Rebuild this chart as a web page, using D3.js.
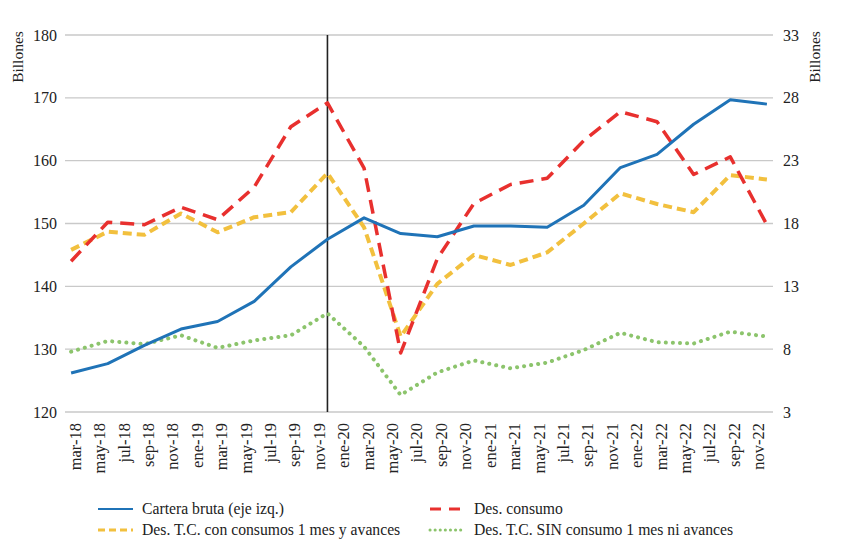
<!DOCTYPE html>
<html>
<head>
<meta charset="utf-8">
<script src="https://cdn.jsdelivr.net/npm/d3@7"></script>
<style>
  body { margin: 0; background: #fff; }
  text { font-family: "Liberation Serif", "DejaVu Serif", serif; fill: #222; }
</style>
</head>
<body>
<div id="chart"></div>
<script>

// month names and years for the category axis
var monthNames = ["ene", "feb", "mar", "abr", "may", "jun", "jul", "ago", "sep", "oct", "nov", "dic"],
  years = ["18", "19", "20", "21", "22"];

// quarterly observations
var quarters = ["mar-18", "jun-18", "sep-18", "dic-18", "mar-19", "jun-19", "sep-19", "dic-19",
  "mar-20", "jun-20", "sep-20", "dic-20", "mar-21", "jun-21", "sep-21", "dic-21",
  "mar-22", "jun-22", "sep-22", "dic-22"];

var cartera = [126.2, 127.7, 130.6, 133.2, 134.4, 137.6, 143.1, 147.5, 150.9, 148.4,
  147.9, 149.6, 149.6, 149.4, 152.9, 158.9, 161.0, 165.8, 169.7, 169.0];          // eje izq.
var desConsumo = [15.0, 18.1, 17.9, 19.3, 18.3, 20.9, 25.7, 27.6, 22.4, 7.7,
  15.2, 19.6, 21.1, 21.6, 24.6, 26.9, 26.1, 21.9, 23.3, 17.9];                     // eje der.
var desTCcon = [15.9, 17.35, 17.1, 18.8, 17.3, 18.5, 18.9, 22.0, 17.7, 9.0,
  13.2, 15.5, 14.7, 15.7, 18.0, 20.4, 19.55, 18.9, 21.85, 21.5];
var desTCsin = [7.8, 8.65, 8.4, 9.1, 8.1, 8.7, 9.1, 10.85, 8.2, 4.35,
  6.15, 7.1, 6.48, 6.93, 7.93, 9.3, 8.55, 8.45, 9.39, 9.0];

var leftTicks = [120, 130, 140, 150, 160, 170, 180],
  rightTicks = [3, 8, 13, 18, 23, 28, 33];

var markMonth = "dic-19";   // vertical line

var seriesNames = ["Cartera bruta (eje izq.)", "Des. consumo",
  "Des. T.C. con consumos 1 mes y avances", "Des. T.C. SIN consumo 1 mes ni avances"];

// all months mar-18 .. dic-22
var months = [];
years.forEach(function (y) {
  monthNames.forEach(function (m, i) {
    if (y == "18" && i < 2) return;
    months.push(m + "-" + y);
  });
});

var W = 853, H = 556;
var margin = { top: 35, left: 65, right: 80, bottom: 144 };
var plotW = W - margin.left - margin.right,   // 708
  plotH = H - margin.top - margin.bottom;     // 377

var svg = d3.select("#chart").append("svg")
  .attr("width", W)
  .attr("height", H);

var g = svg.append("g")
  .attr("transform", "translate(" + margin.left + "," + margin.top + ")");

var x = d3.scalePoint().domain(months).range([0, plotW]).padding(0.5);
var yL = d3.scaleLinear().domain([120, 180]).range([plotH, 0]);
var yR = d3.scaleLinear().domain([3, 33]).range([plotH, 0]);

// gridlines
g.selectAll(".grid")
  .data(leftTicks)
  .enter().append("line")
  .attr("x1", 0).attr("x2", plotW)
  .attr("y1", function (d) { return yL(d); })
  .attr("y2", function (d) { return yL(d); })
  .attr("stroke", "#c9c9c9")
  .attr("stroke-width", 1.3);

// left axis
var axL = g.append("g")
  .call(d3.axisLeft(yL).tickValues(leftTicks).tickSize(0).tickPadding(8));
axL.select(".domain").remove();
axL.selectAll("text").style("font-size", "16px").style("font-family", "Liberation Serif");

// right axis
var axR = g.append("g")
  .attr("transform", "translate(" + plotW + ",0)")
  .call(d3.axisRight(yR).tickValues(rightTicks).tickSize(0).tickPadding(10));
axR.select(".domain").remove();
axR.selectAll("text").style("font-size", "16px").style("font-family", "Liberation Serif");

// bottom axis, labels every two months
var tickMonths = months.filter(function (d, i) { return i % 2 == 0; });
var axB = g.append("g")
  .attr("transform", "translate(0," + plotH + ")")
  .call(d3.axisBottom(x).tickValues(tickMonths).tickSize(0));
axB.select(".domain").remove();
axB.selectAll("text")
  .attr("transform", "rotate(-90)")
  .attr("text-anchor", "end")
  .attr("x", -11)
  .attr("y", 0)
  .attr("dy", "0.55em")
  .style("font-size", "16.5px")
  .style("font-family", "Liberation Serif");

// axis titles
svg.append("text")
  .attr("text-anchor", "middle")
  .attr("transform", "translate(23,57)rotate(-90)")
  .style("font-size", "15.5px")
  .text("Billones");
svg.append("text")
  .attr("text-anchor", "middle")
  .attr("transform", "translate(820,57)rotate(-90)")
  .style("font-size", "15.5px")
  .text("Billones");

// vertical marker
g.append("line")
  .attr("x1", x(markMonth)).attr("x2", x(markMonth))
  .attr("y1", 0).attr("y2", plotH)
  .attr("stroke", "#222")
  .attr("stroke-width", 1.6);

var styles = [
  { color: "#1f73b7", width: 3, dash: null, cap: "butt" },
  { color: "#e8302e", width: 3.5, dash: "14,8", cap: "butt" },
  { color: "#f2c03e", width: 4, dash: "9,5", cap: "butt" },
  { color: "#8cc46c", width: 4, dash: "0.1,7", cap: "round" }
];

var makeLine = function (scale) {
  return d3.line()
    .x(function (d, i) { return x(quarters[i]); })
    .y(function (d) { return scale(d); });
};

var allSeries = [
  { values: desTCsin, scale: yR, st: styles[3] },
  { values: desTCcon, scale: yR, st: styles[2] },
  { values: desConsumo, scale: yR, st: styles[1] },
  { values: cartera, scale: yL, st: styles[0] }
];

allSeries.forEach(function (s) {
  g.append("path")
    .datum(s.values)
    .attr("fill", "none")
    .attr("stroke", s.st.color)
    .attr("stroke-width", s.st.width)
    .attr("stroke-dasharray", s.st.dash)
    .attr("stroke-linecap", s.st.cap)
    .attr("stroke-linejoin", "round")
    .attr("d", makeLine(s.scale));
});

// legend
var legendPos = [[98, 509], [430, 509], [98, 530], [430, 530]];
var legendOrder = [0, 1, 2, 3];
legendOrder.forEach(function (k, i) {
  var p = legendPos[i], st = styles[k];
  svg.append("line")
    .attr("x1", p[0]).attr("x2", p[0] + 35)
    .attr("y1", p[1]).attr("y2", p[1])
    .attr("stroke", st.color)
    .attr("stroke-width", k == 0 ? 2 : 3)
    .attr("stroke-dasharray", k == 1 ? "11,8" : (k == 2 ? "7,4" : (k == 3 ? "0.1,5" : null)))
    .attr("stroke-linecap", st.cap);
  svg.append("text")
    .attr("x", p[0] + 44)
    .attr("y", p[1])
    .attr("dy", "0.35em")
    .style("font-size", "15.7px")
    .text(seriesNames[k]);
});

</script>
</body>
</html>
